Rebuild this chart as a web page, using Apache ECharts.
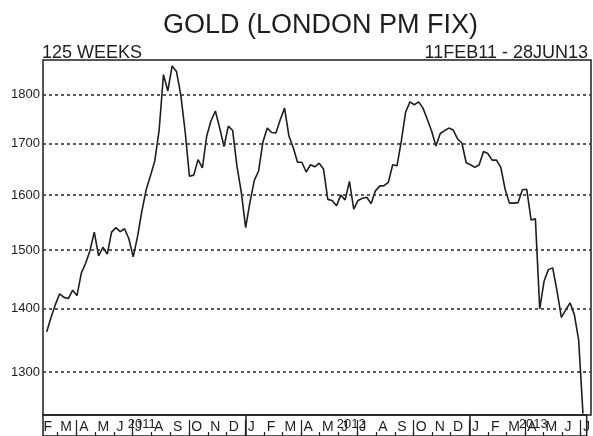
<!DOCTYPE html>
<html>
<head>
<meta charset="utf-8">
<script src="https://cdn.jsdelivr.net/npm/echarts@6/dist/echarts.min.js"></script>
<style>
  html, body { margin: 0; padding: 0; background: #fff; }
  #main { width: 593px; height: 436px; }
</style>
</head>
<body>
<div id="main"></div>
<script>
// weekly PM fix (Fridays), 11 Feb 2011 .. 28 Jun 2013
var firstWeek = [2011, 1, 11];
var prices = [
  1363, 1386, 1407, 1425, 1419, 1417, 1431, 1422, 1460, 1477,
  1499, 1532, 1490, 1505, 1493, 1532, 1540, 1533, 1538, 1520,
  1488, 1524, 1570, 1610, 1637, 1666, 1727, 1843, 1808, 1862,
  1850, 1800, 1725, 1636, 1638, 1668, 1652, 1715, 1746, 1766,
  1731, 1694, 1735, 1726, 1655, 1605, 1540, 1587, 1628, 1646,
  1703, 1731, 1722, 1721, 1748, 1772, 1715, 1692, 1663, 1663,
  1644, 1658, 1654, 1661, 1650, 1592, 1590, 1580, 1600, 1591,
  1626, 1574, 1590, 1594, 1596, 1584, 1608, 1617, 1618, 1624,
  1658, 1656, 1705, 1764, 1785, 1779, 1785, 1772, 1749, 1725,
  1695, 1720, 1726, 1731, 1727, 1709, 1701, 1662, 1658, 1653,
  1658, 1684, 1680, 1667, 1667, 1653, 1611, 1585, 1585, 1586,
  1610, 1611, 1554, 1556, 1400, 1446, 1466, 1469, 1430, 1386,
  1398, 1410, 1391, 1350, 1238
];
var yTicks = [1300, 1400, 1500, 1600, 1700, 1800];
var monthLetters = ['J', 'F', 'M', 'A', 'M', 'J', 'J', 'A', 'S', 'O', 'N', 'D'];
var yearLabels = [[2011, 6, 16, '2011'], [2012, 5, 22, '2012'], [2013, 3, 15, '2013']];

var DAY = 86400000;
var xMin = Date.UTC(2011, 1, 5);
var xMax = Date.UTC(2013, 6, 11);

var t0 = Date.UTC(firstWeek[0], firstWeek[1], firstWeek[2]);
var lineData = prices.map(function (v, i) { return [t0 + i * 7 * DAY, v]; });

// month / quarter / year boundaries for the strip under the plot
var monthStarts = [], monthLabelPos = [], quarterStarts = [], yearStarts = [];
for (var y = 2011; y <= 2013; y++) {
  for (var m = 0; m < 12; m++) {
    var t = Date.UTC(y, m, 1);
    if (t > xMin && t < xMax) {
      monthStarts.push(t);
      if (m % 3 === 0) quarterStarts.push(t);
      if (m === 0) yearStarts.push(t);
    }
    var lp = Date.UTC(y, m, 5);
    if (lp > xMin && lp < xMax) monthLabelPos.push(lp);
  }
}
monthLabelPos.unshift(Date.UTC(2011, 1, 6));
var yearPos = yearLabels.map(function (d) { return Date.UTC(d[0], d[1], d[2]); });
var yearText = {};
yearLabels.forEach(function (d, i) { yearText[yearPos[i]] = d[3]; });

var font = 'Liberation Sans, Arial, sans-serif';
var ink = '#1e1e1e';

var chart = echarts.init(document.getElementById('main'));

var stripAxis = function (extra) {
  return Object.assign({
    type: 'value', gridIndex: 1, position: 'bottom', min: xMin, max: xMax,
    axisLine: { show: false, onZero: false },
    axisTick: { show: false },
    axisLabel: { show: false },
    splitLine: { show: false }
  }, extra);
};

var option = {
  animation: false,
  title: [
    { text: 'GOLD (LONDON PM FIX)', left: 158, top: 7,
      textStyle: { fontFamily: font, fontSize: 27, fontWeight: 'normal', color: ink } },
    { text: '125 WEEKS', left: 37, top: 39,
      textStyle: { fontFamily: font, fontSize: 18, fontWeight: 'normal', color: ink } },
    { text: '11FEB11 - 28JUN13', right: 0, top: 39,
      textStyle: { fontFamily: font, fontSize: 18, fontWeight: 'normal', color: ink } }
  ],
  grid: [
    { left: 43, right: 2, top: 60, bottom: 21, show: true, borderColor: ink, borderWidth: 1.5 },
    { left: 43, right: 2, top: 415, height: 21, show: true, borderColor: ink, borderWidth: 1.5 }
  ],
  xAxis: [
    { type: 'value', gridIndex: 0, min: xMin, max: xMax,
      axisLine: { show: false }, axisTick: { show: false },
      axisLabel: { show: false }, splitLine: { show: false } },
    stripAxis({
      axisTick: { show: true, inside: true, length: 4, customValues: monthStarts,
        lineStyle: { color: ink, width: 1.2 } },
      axisLabel: { show: true, inside: true, margin: 2, align: 'left', customValues: monthLabelPos,
        fontFamily: font, fontSize: 14, color: ink,
        formatter: function (v) { return monthLetters[new Date(v).getUTCMonth()]; } }
    }),
    stripAxis({
      axisTick: { show: true, inside: true, length: 16, customValues: quarterStarts,
        lineStyle: { color: ink, width: 1.2 } }
    }),
    stripAxis({
      axisTick: { show: true, inside: true, length: 21, customValues: yearStarts,
        lineStyle: { color: ink, width: 1.5 } },
      axisLabel: { show: true, inside: true, margin: 5, align: 'center', customValues: yearPos,
        fontFamily: font, fontSize: 13, color: ink,
        formatter: function (v) { return yearText[v] || ''; } }
    })
  ],
  yAxis: [
    { type: 'log', gridIndex: 0, min: 1236, max: 1875,
      axisLine: { show: false }, axisTick: { show: false },
      axisLabel: { show: false }, splitLine: { show: false } },
    { type: 'value', gridIndex: 1, show: false }
  ],
  series: [{
    type: 'line',
    xAxisIndex: 0,
    yAxisIndex: 0,
    data: lineData,
    showSymbol: false,
    lineStyle: { color: ink, width: 1.6 },
    markLine: {
      silent: true,
      symbol: 'none',
      lineStyle: { color: '#333', type: [3, 3], width: 1.6 },
      label: { position: 'start', distance: 3, fontFamily: font, fontSize: 13, color: ink,
        formatter: function (p) { return String(p.value); } },
      data: yTicks.map(function (v) { return { yAxis: v }; })
    }
  }]
};

chart.setOption(option);
</script>
</body>
</html>
